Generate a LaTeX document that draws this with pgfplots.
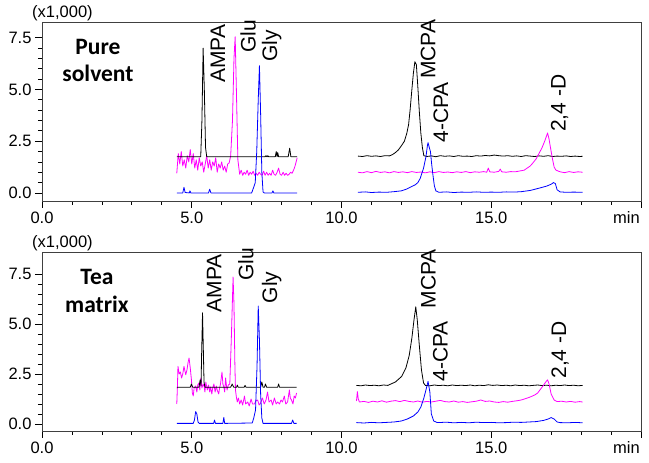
\documentclass[border=0pt]{standalone}
\usepackage{fontspec}
\setmainfont{Liberation Sans}
\newfontfamily\calib{Carlito}
\usepackage{pgfplots}
\pgfplotsset{compat=1.18}
\definecolor{chMag}{RGB}{255,0,255}
\definecolor{chBlue}{RGB}{0,0,255}

\pgfplotsset{
  chrom/.style={
    scale only axis, width=599pt, height=179pt,
    xmin=0, xmax=20,
    xtick={0,5,10,15,20}, xticklabels={0.0,5.0,10.0,15.0,},
    ytick={0,2.5,5,7.5}, yticklabels={0.0,2.5,5.0,7.5},
    minor x tick num=4, minor y tick num=4,
    xtick pos=lower, ytick pos=left,
    tick align=outside, major tick length=7pt, minor tick length=4pt,
    tick style={black, line width=0.7pt},
    axis line style={black!75, line width=0.8pt},
    tick label style={font=\fontsize{16.5}{19}\selectfont},
    clip=false,
    every axis plot/.append style={line width=0.8pt, no marks, line join=round},
  },
}
\tikzset{
  pk/.style={anchor=west, rotate=90, inner sep=0pt, font=\fontsize{21}{24}\selectfont},
  side/.style={inner sep=0pt, font=\fontsize{16.5}{19}\selectfont},
  tag/.style={anchor=base, inner sep=0pt, font=\calib\bfseries\fontsize{23.5}{27}\selectfont},
}

\begin{document}
\begin{tikzpicture}
\useasboundingbox (0,0) rectangle (649pt,463pt);

% ---------- pure solvent ----------
\begin{axis}[chrom, at={(42pt,262pt)}, anchor=south west, ymin=-0.39, ymax=8.26]
% early segment
\addplot[chMag] coordinates {(4.5,0.95)(4.55,1.9)(4.6,1.4)(4.65,2.0)(4.7,1.3)(4.75,1.6)(4.8,1.2)(4.85,1.8)(4.9,1.5)(4.95,2.1)(5.0,1.4)(5.05,1.9)(5.1,1.2)(5.15,1.6)(5.2,1.1)(5.25,1.7)(5.3,1.3)(5.35,1.5)(5.4,1.0)(5.45,1.4)(5.5,1.8)(5.55,1.2)(5.6,1.6)(5.65,1.1)(5.7,1.5)(5.75,1.3)(5.8,1.7)(5.85,1.0)(5.9,1.4)(5.95,1.2)(6.0,1.5)(6.05,1.1)(6.1,1.3)(6.15,1.0)(6.2,1.4)(6.25,1.45)(6.3,1.8)(6.36,3.5)(6.41,6.5)(6.45,7.55)(6.49,5.0)(6.54,1.6)(6.6,0.9)(6.65,1.1)(6.7,0.85)(6.75,1.0)(6.8,0.9)(6.85,1.1)(6.9,0.85)(6.95,1.0)(7.0,0.9)(7.05,1.05)(7.1,0.85)(7.15,0.95)(7.2,0.85)(7.25,1.0)(7.3,0.9)(7.35,0.85)(7.4,1.05)(7.45,0.85)(7.5,1.0)(7.55,0.85)(7.6,0.95)(7.65,0.85)(7.7,1.1)(7.75,0.9)(7.8,0.85)(7.85,1.0)(7.9,1.2)(7.95,0.9)(8.0,0.85)(8.05,1.0)(8.1,0.85)(8.15,0.95)(8.2,0.85)(8.25,0.9)(8.3,1.0)(8.35,0.95)(8.4,1.1)(8.45,1.3)(8.52,1.7)};
\addplot[black] coordinates {(4.5,1.75)(5.3,1.75)(5.34,3.5)(5.38,7.0)(5.42,5.0)(5.46,2.2)(5.5,1.75)(7.45,1.75)(7.48,1.8)(7.51,1.75)(7.52,1.75)(7.54,1.8)(7.57,1.75)(7.79,1.75)(7.82,2.0)(7.85,1.75)(7.87,1.95)(7.9,1.75)(8.22,1.75)(8.27,2.16)(8.31,1.75)(8.52,1.75)};
\addplot[chBlue] coordinates {(4.5,0)(4.7,0)(4.74,0.27)(4.78,0.02)(4.92,0)(4.94,0.1)(4.97,0)(5.56,0)(5.6,0.18)(5.64,0)(7.0,0)(7.07,0.28)(7.12,0.5)(7.17,2.0)(7.22,4.5)(7.26,6.15)(7.3,3.8)(7.34,1.0)(7.38,0.05)(7.42,0)(7.68,0)(7.71,0.1)(7.74,0)(8.52,0)};
% late segment
\addplot[black] coordinates {(10.55,1.78)(10.7,1.76)(10.85,1.8)(11.0,1.77)(11.15,1.79)(11.3,1.76)(11.45,1.8)(11.6,1.79)(11.7,1.85)(11.8,1.95)(11.9,2.08)(12.01,2.3)(12.1,2.5)(12.18,2.88)(12.24,3.3)(12.29,4.0)(12.35,5.0)(12.4,5.78)(12.45,6.34)(12.5,6.2)(12.55,5.1)(12.6,3.9)(12.65,2.88)(12.7,2.2)(12.75,1.8)(12.85,1.76)(13.0,1.79)(13.15,1.75)(13.3,1.8)(13.45,1.77)(13.6,1.79)(13.75,1.76)(13.9,1.8)(14.05,1.77)(14.2,1.78)(14.35,1.76)(14.5,1.8)(14.65,1.78)(14.8,1.81)(14.95,1.79)(15.1,1.83)(15.25,1.8)(15.4,1.78)(15.55,1.8)(15.7,1.77)(15.85,1.79)(16.0,1.76)(16.15,1.8)(16.3,1.78)(16.45,1.76)(16.6,1.79)(16.75,1.77)(16.9,1.8)(17.05,1.76)(17.2,1.78)(17.35,1.77)(17.5,1.79)(17.65,1.76)(17.8,1.78)(17.95,1.76)(18.05,1.77)};
\addplot[chMag] coordinates {(10.55,1.0)(10.7,0.97)(10.85,1.03)(11.0,0.98)(11.15,1.04)(11.3,0.99)(11.45,1.02)(11.6,0.97)(11.75,1.03)(11.9,0.99)(12.05,1.02)(12.2,0.98)(12.35,1.03)(12.5,0.99)(12.65,1.01)(12.8,0.97)(12.95,1.02)(13.1,0.98)(13.25,1.03)(13.4,0.99)(13.55,1.01)(13.7,0.98)(13.85,1.02)(14.0,0.99)(14.15,1.03)(14.3,0.98)(14.45,1.02)(14.6,1.0)(14.75,1.03)(14.85,1.0)(14.9,1.2)(14.95,1.02)(15.1,1.0)(15.25,1.04)(15.3,1.15)(15.35,1.02)(15.5,1.0)(15.65,1.03)(15.8,1.02)(15.95,1.06)(16.1,1.1)(16.2,1.2)(16.3,1.3)(16.38,1.43)(16.5,1.65)(16.6,1.92)(16.7,2.2)(16.8,2.56)(16.88,2.9)(16.93,2.6)(17.0,2.0)(17.05,1.6)(17.1,1.25)(17.16,1.1)(17.3,1.02)(17.45,0.98)(17.6,1.03)(17.75,0.99)(17.9,1.02)(18.05,1.0)};
\addplot[chBlue] coordinates {(10.55,0.03)(10.8,0.05)(11.0,0.02)(11.25,0.04)(11.5,0.03)(11.75,0.06)(12.0,0.1)(12.18,0.19)(12.3,0.28)(12.46,0.39)(12.55,0.5)(12.63,0.71)(12.74,1.2)(12.82,1.75)(12.87,2.3)(12.89,2.43)(12.93,2.2)(12.97,2.0)(13.01,1.4)(13.05,0.9)(13.1,0.35)(13.15,0.1)(13.25,0.03)(13.5,0.05)(13.75,0.02)(14.0,0.04)(14.25,0.03)(14.5,0.05)(14.75,0.03)(15.0,0.04)(15.25,0.03)(15.5,0.05)(15.75,0.04)(16.0,0.06)(16.3,0.12)(16.6,0.23)(16.85,0.33)(17.0,0.42)(17.08,0.5)(17.14,0.45)(17.2,0.15)(17.3,0.05)(17.5,0.03)(17.75,0.04)(18.05,0.03)};
% peak names
\node[pk] at (axis cs:5.87,5.31) {AMPA};
\node[pk] at (axis cs:6.88,6.76) {Glu};
\node[pk] at (axis cs:7.67,6.33) {Gly};
\node[pk] at (axis cs:12.89,5.5) {MCPA};
\node[pk] at (axis cs:13.32,2.42) {4-CPA};
\node[pk] at (axis cs:17.28,2.95) {2,4 -D};
\node[side, anchor=base west, xshift=-10pt, yshift=4.5pt] at (rel axis cs:0,1) {(x1,000)};
\node[side, anchor=base east, xshift=-1pt, yshift=-23pt] at (rel axis cs:1,0) {min};
\node[tag, xshift=56pt, yshift=-33pt] at (rel axis cs:0,1) {Pure};
\node[tag, xshift=56pt, yshift=-60pt] at (rel axis cs:0,1) {solvent};
\end{axis}

% ---------- tea matrix ----------
\begin{axis}[chrom, at={(42pt,32pt)}, anchor=south west, ymin=-0.35, ymax=8.6]
% early segment
\addplot[chMag] coordinates {(4.5,1.0)(4.52,1.8)(4.54,2.88)(4.58,2.5)(4.62,2.6)(4.66,2.3)(4.7,2.5)(4.74,2.88)(4.78,2.6)(4.8,2.46)(4.84,2.7)(4.88,3.1)(4.91,3.3)(4.95,2.8)(4.99,2.2)(5.02,1.55)(5.05,1.4)(5.08,1.8)(5.13,1.9)(5.17,1.6)(5.2,1.95)(5.24,2.05)(5.27,1.7)(5.3,2.3)(5.34,1.8)(5.38,2.0)(5.41,1.9)(5.44,1.6)(5.47,2.1)(5.52,1.7)(5.56,1.95)(5.6,1.6)(5.63,1.85)(5.67,1.5)(5.7,1.8)(5.74,2.0)(5.78,1.6)(5.82,1.9)(5.85,1.7)(5.9,1.5)(5.93,1.8)(5.96,2.0)(6.01,2.6)(6.04,2.0)(6.07,1.85)(6.1,1.6)(6.13,2.3)(6.16,1.9)(6.18,1.7)(6.22,1.95)(6.27,2.0)(6.32,4.2)(6.38,7.35)(6.41,6.0)(6.44,3.0)(6.46,1.7)(6.49,1.35)(6.52,1.1)(6.56,1.3)(6.6,1.0)(6.65,1.2)(6.7,0.95)(6.76,1.4)(6.8,1.0)(6.87,1.1)(6.92,0.9)(6.98,1.25)(7.03,1.0)(7.09,1.0)(7.14,1.15)(7.2,1.2)(7.25,0.95)(7.3,1.05)(7.36,1.3)(7.42,1.0)(7.48,1.2)(7.53,1.6)(7.58,1.1)(7.65,1.2)(7.7,0.95)(7.76,1.3)(7.82,1.0)(7.87,1.1)(7.93,1.0)(7.98,1.2)(8.03,1.1)(8.09,1.4)(8.14,1.0)(8.2,1.1)(8.26,1.7)(8.29,1.3)(8.33,1.2)(8.38,1.0)(8.42,1.4)(8.46,1.3)(8.5,1.55)};
\addplot[black] coordinates {(4.5,1.84)(4.95,1.84)(4.99,2.0)(5.03,1.84)(5.24,1.84)(5.28,2.2)(5.31,1.9)(5.33,3.5)(5.36,5.56)(5.39,3.5)(5.41,2.1)(5.44,1.84)(6.3,1.84)(6.35,2.0)(6.4,1.84)(6.5,1.84)(6.52,1.95)(6.55,1.84)(6.75,1.84)(6.78,1.93)(6.81,1.84)(7.3,1.84)(7.34,2.1)(7.38,1.84)(7.43,1.84)(7.46,2.0)(7.5,1.84)(7.87,1.84)(7.9,2.0)(7.93,1.84)(8.5,1.84)};
\addplot[chBlue] coordinates {(4.5,0.03)(5.05,0.03)(5.09,0.2)(5.13,0.62)(5.17,0.5)(5.21,0.1)(5.25,0.03)(5.73,0.03)(5.76,0.2)(5.79,0.03)(6.04,0.03)(6.07,0.33)(6.1,0.03)(7.02,0.05)(7.07,0.3)(7.13,0.7)(7.18,2.9)(7.22,5.9)(7.26,4.2)(7.3,1.5)(7.34,0.3)(7.38,0.03)(8.33,0.03)(8.37,0.2)(8.41,0.03)(8.5,0.03)};
% late segment
\addplot[black] coordinates {(10.5,1.93)(10.65,1.91)(10.8,1.95)(10.95,1.92)(11.1,1.94)(11.25,1.91)(11.4,1.95)(11.55,1.93)(11.62,1.98)(11.8,2.1)(12.01,2.38)(12.15,2.8)(12.26,3.42)(12.35,4.3)(12.42,5.2)(12.48,5.86)(12.53,5.2)(12.6,3.9)(12.67,2.7)(12.74,2.05)(12.8,1.93)(12.95,1.91)(13.1,1.95)(13.25,1.92)(13.4,1.94)(13.55,1.91)(13.7,1.95)(13.85,1.92)(14.0,1.94)(14.15,1.92)(14.3,1.95)(14.45,1.91)(14.6,1.94)(14.75,1.92)(14.9,1.96)(15.05,1.93)(15.2,1.95)(15.35,1.92)(15.5,1.94)(15.65,1.91)(15.8,1.95)(15.95,1.92)(16.1,1.94)(16.25,1.91)(16.4,1.93)(16.55,1.95)(16.7,1.92)(16.85,1.94)(17.0,1.91)(17.15,1.94)(17.3,1.92)(17.45,1.95)(17.6,1.92)(17.75,1.94)(17.9,1.91)(18.05,1.93)};
\addplot[chMag] coordinates {(10.5,1.15)(10.53,1.62)(10.56,1.25)(10.6,1.1)(10.75,1.13)(10.9,1.08)(11.05,1.14)(11.2,1.1)(11.35,1.16)(11.5,1.09)(11.65,1.14)(11.8,1.17)(11.95,1.12)(12.1,1.18)(12.25,1.13)(12.4,1.1)(12.55,1.15)(12.7,1.09)(12.85,1.13)(13.0,1.1)(13.15,1.14)(13.3,1.18)(13.45,1.12)(13.6,1.1)(13.75,1.15)(13.9,1.09)(14.05,1.12)(14.2,1.08)(14.35,1.11)(14.5,1.14)(14.65,1.2)(14.8,1.13)(14.95,1.15)(15.1,1.1)(15.25,1.08)(15.4,1.12)(15.55,1.09)(15.7,1.13)(15.85,1.16)(16.0,1.2)(16.15,1.27)(16.3,1.35)(16.45,1.45)(16.55,1.55)(16.65,1.75)(16.75,1.95)(16.82,2.1)(16.88,2.21)(16.93,2.0)(17.0,1.5)(17.1,1.2)(17.2,1.12)(17.35,1.14)(17.5,1.1)(17.65,1.13)(17.8,1.09)(17.95,1.12)(18.05,1.1)};
\addplot[chBlue] coordinates {(10.5,0.07)(10.75,0.05)(11.0,0.08)(11.25,0.06)(11.5,0.08)(11.75,0.1)(12.0,0.15)(12.2,0.25)(12.4,0.4)(12.55,0.6)(12.65,0.85)(12.75,1.3)(12.82,1.7)(12.89,2.13)(12.95,1.6)(13.0,0.5)(13.08,0.15)(13.2,0.07)(13.5,0.09)(13.75,0.06)(14.0,0.08)(14.25,0.06)(14.5,0.09)(14.75,0.07)(15.0,0.08)(15.25,0.06)(15.5,0.07)(15.75,0.09)(16.0,0.08)(16.25,0.1)(16.5,0.12)(16.75,0.18)(16.9,0.25)(17.0,0.32)(17.1,0.25)(17.2,0.1)(17.3,0.07)(17.55,0.06)(17.8,0.08)(18.05,0.06)};
% peak names
\node[pk] at (axis cs:5.75,5.58) {AMPA};
\node[pk] at (axis cs:6.81,7.14) {Glu};
\node[pk] at (axis cs:7.67,6.03) {Gly};
\node[pk] at (axis cs:12.9,5.78) {MCPA};
\node[pk] at (axis cs:13.3,2.11) {4-CPA};
\node[pk] at (axis cs:17.3,2.26) {2,4 -D};
\node[side, anchor=base west, xshift=-10pt, yshift=4.5pt] at (rel axis cs:0,1) {(x1,000)};
\node[side, anchor=base east, xshift=-1pt, yshift=-23pt] at (rel axis cs:1,0) {min};
\node[tag, xshift=55pt, yshift=-33pt] at (rel axis cs:0,1) {Tea};
\node[tag, xshift=55pt, yshift=-61pt] at (rel axis cs:0,1) {matrix};
\end{axis}
\end{tikzpicture}
\end{document}
